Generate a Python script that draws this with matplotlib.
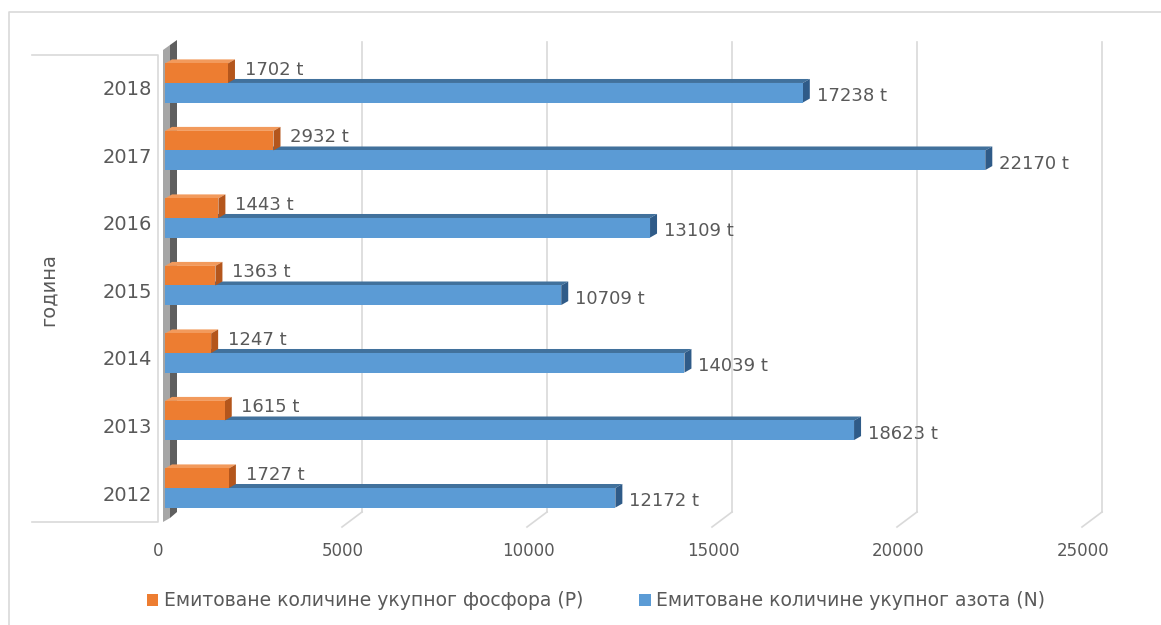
import matplotlib
matplotlib.use("Agg")
import matplotlib.pyplot as plt
from matplotlib.patches import Polygon, Patch
from matplotlib.transforms import ScaledTranslation

# data
years = ["2012", "2013", "2014", "2015", "2016", "2017", "2018"]
phosphorus = [1727, 1615, 1247, 1363, 1443, 2932, 1702]
nitrogen = [12172, 18623, 14039, 10709, 13109, 22170, 17238]
xticks = [0, 5000, 10000, 15000, 20000, 25000]
label_p = "Емитоване количине укупног фосфора (P)"
label_n = "Емитоване количине укупног азота (N)"
ylabel = "година"

W, H = 1161, 625
TXT = "#595959"
plt.rcParams["font.family"] = ["DejaVu Sans"]

fig = plt.figure(figsize=(W / 100, H / 100), dpi=100)
ax = fig.add_axes([165 / W, 1 - 520 / H, (1112 - 165) / W, 478 / H])
ax.patch.set_visible(False)
ax.set_xlim(0, 947 / 0.037)
ax.set_ylim(-0.474, 6.607)
for s in ax.spines.values():
    s.set_visible(False)


def px(x, y):
    # figure pixel coords (origin top-left) -> figure fraction
    return (x / W, 1 - y / H)


def fig_line(xs, ys, **kw):
    fig.add_artist(plt.Line2D([x / W for x in xs], [1 - y / H for y in ys],
                              transform=fig.transFigure, zorder=-1, **kw))


# outer frame and left panel lines
fig_line([9, 9, W], [H, 12, 12], color="#d9d9d9", lw=1.2)
fig_line([32, 158, 158, 32], [55, 55, 522, 522], color="#d9d9d9", lw=1.2)

# back wall edge strip (behind the axes)
fig.add_artist(Polygon([px(163, 50), px(170, 45), px(170, 518), px(163, 522)],
                       closed=True, transform=fig.transFigure, fc="#a6a6a6", ec="none",
                       zorder=-1))
fig.add_artist(Polygon([px(170, 45), px(177, 40), px(177, 512), px(170, 518)],
                       closed=True, transform=fig.transFigure, fc="#5f5f5f", ec="none",
                       zorder=-1))

# gridlines on the back wall + floor slants
shift = ax.transData + ScaledTranslation(12 / 100, 0, fig.dpi_scale_trans)
ybot = ax.get_ylim()[0] + 8 / 67.5
for v in xticks[1:]:
    ax.plot([v, v], [ybot, ax.get_ylim()[1]], color="#d9d9d9", lw=1.2,
            transform=shift, zorder=0, clip_on=False)
    ax.plot([v, v - 20 / 0.037], [ybot, ybot - 15 / 67.5], color="#d9d9d9", lw=1.2,
            transform=shift, zorder=0, clip_on=False)

bh = 0.29
dx = 7 / 0.037
dy = 4 / 67.5


def bar3d(y0, y1, v, front, top, side, z):
    ax.add_patch(Polygon([(0, y1), (v, y1), (v + dx, y1 + dy), (dx, y1 + dy)],
                         closed=True, fc=top, ec="none", zorder=z))
    ax.add_patch(Polygon([(v, y0), (v + dx, y0 + dy), (v + dx, y1 + dy), (v, y1)],
                         closed=True, fc=side, ec="none", zorder=z))
    ax.add_patch(Polygon([(0, y0), (v, y0), (v, y1), (0, y1)],
                         closed=True, fc=front, ec="none", zorder=z))


for i in range(len(years)):
    bar3d(i - bh, i, nitrogen[i], "#5b9bd5", "#41719c", "#2f5b88", 2 + i * 0.1)
    bar3d(i, i + bh, phosphorus[i], "#ed7d31", "#f29a5c", "#b4561c", 3 + i * 0.1)
    ax.annotate(f"{phosphorus[i]} t", (phosphorus[i], i + bh / 2), xytext=(12, 2.5),
                textcoords="offset points", va="center", ha="left",
                fontsize=13, color=TXT, zorder=10)
    ax.annotate(f"{nitrogen[i]} t", (nitrogen[i], i - bh / 2), xytext=(10, -2.5),
                textcoords="offset points", va="center", ha="left",
                fontsize=13, color=TXT, zorder=10)

ax.set_yticks(range(len(years)))
ax.set_yticklabels(years, fontsize=14, color=TXT)
ax.tick_params(axis="y", length=0, pad=9)
for lab in ax.get_yticklabels():
    lab.set_transform(lab.get_transform() + ScaledTranslation(0, -5 / 100, fig.dpi_scale_trans))

ax.set_xticks(xticks)
ax.set_xticklabels([str(v) for v in xticks], fontsize=12, color=TXT)
ax.tick_params(axis="x", length=0, pad=16)
for lab in ax.get_xticklabels():
    lab.set_transform(lab.get_transform() + ScaledTranslation(-7 / 100, 0, fig.dpi_scale_trans))

fig.text(48 / W, 1 - 290 / H, ylabel, rotation=90, ha="center", va="center",
         fontsize=14, color=TXT)

handles = [Patch(fc="#ed7d31", ec="none"), Patch(fc="#5b9bd5", ec="none")]
fig.legend(handles, [label_p, label_n], loc="center", ncol=2,
           bbox_to_anchor=(596 / W, 1 - 601 / H), frameon=False,
           prop={"size": 13.5}, labelcolor=TXT,
           handlelength=0.6, handleheight=0.6, handletextpad=0.3,
           columnspacing=3.0)

fig.savefig("out.png", dpi=100, facecolor="white")
